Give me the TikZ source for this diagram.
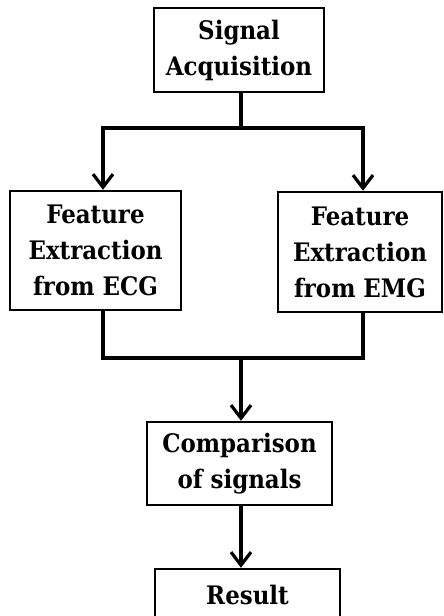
\documentclass[tikz,border=0pt]{standalone}
\usepackage{fontspec}
\setmainfont{DejaVu Serif Condensed}
\usetikzlibrary{arrows.meta}

\tikzset{
  stage/.style={draw,line width=2.5pt,align=center,inner sep=0pt,
    font=\bfseries\fontsize{25.5}{36}\selectfont},
  flow/.style={line width=3.8pt},
  flowto/.style={flow,-{Straight Barb[length=13pt,width=20pt,line width=3.2pt]}}
}

\begin{document}
\begin{tikzpicture}[x=1pt,y=-1pt]
  \useasboundingbox[fill=white] (0,0) rectangle (444,616);
  % processing stages
  \node[stage,minimum width=170pt,minimum height=84pt] (sig) at (239,50)
    {Signal\\Acquisition};
  \node[stage,minimum width=171pt,minimum height=119pt] (ecg) at (95.5,250.5)
    {Feature\\Extraction\\from ECG};
  \node[stage,minimum width=164pt,minimum height=120pt] (emg) at (360,252)
    {Feature\\Extraction\\from EMG};
  \node[stage,minimum width=185pt,minimum height=83pt] (cmp) at (239.5,463.5)
    {Comparison\\of signals};
  \node[stage,minimum width=185pt,minimum height=52pt] (res) at (247.5,595)
    {Result};
  % branch and merge points
  \coordinate (split) at (241,128);
  \coordinate (merge) at (241,358);
  \draw[flow] ([xshift=2pt]sig.south) -- (split);
  \draw[flowto] (split) -| ([xshift=7.5pt]ecg.north);
  \draw[flowto] (split) -| ([xshift=3pt]emg.north);
  \draw[flow] ([xshift=7.5pt]ecg.south) |- (merge);
  \draw[flow] ([xshift=3pt]emg.south) |- (merge);
  \draw[flowto] (merge) -- ([xshift=1.5pt]cmp.north);
  \draw[flowto] ([xshift=1.5pt]cmp.south) -- ([xshift=-6.5pt]res.north);
\end{tikzpicture}
\end{document}
